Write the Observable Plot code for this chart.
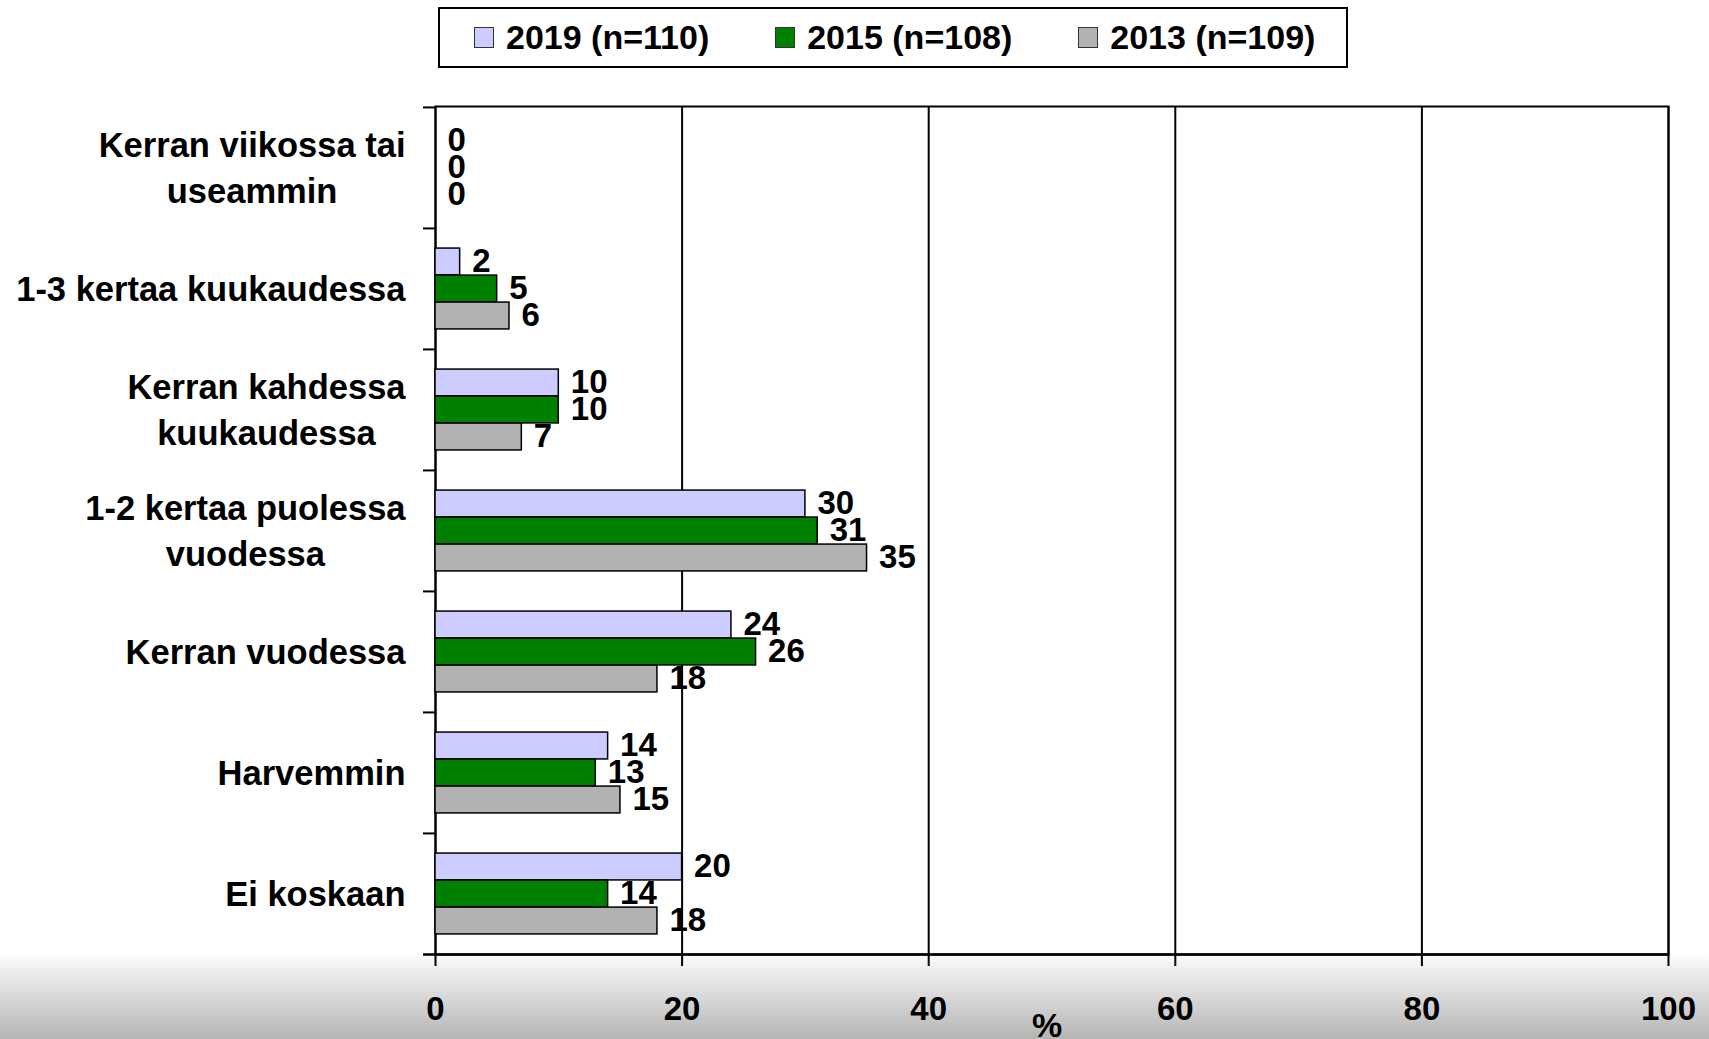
<!DOCTYPE html>
<html>
<head>
<meta charset="utf-8">
<script src="https://cdn.jsdelivr.net/npm/d3@7"></script>
<script src="https://cdn.jsdelivr.net/npm/@observablehq/plot@0.6"></script>
<style>
  html, body { margin: 0; padding: 0; width: 1709px; height: 1039px; overflow: hidden; }
  body {
    background: linear-gradient(to bottom, #ffffff 0px, #ffffff 952px, #f5f5f5 962px, #b5b5b5 1039px);
    font-family: "Liberation Sans", Arial, sans-serif;
  }
  #legend { position: relative; height: 80px; }
  #legendBox {
    position: absolute; left: 438px; top: 7px; width: 910px; height: 61px;
    box-sizing: border-box; border: 2px solid #000; background: #fff;
    display: flex; align-items: center; padding-left: 34px;
  }
  .item { display: flex; align-items: center; margin-right: 66px; }
  .sw { width: 20px; height: 21px; box-sizing: border-box; border: 1.5px solid #333; margin-right: 12px; }
  .lab { font-weight: bold; font-size: 34px; color: #000; white-space: nowrap; }
</style>
</head>
<body>
<div id="legend"><div id="legendBox"></div></div>
<div id="chart"></div>
<script>
// ---- data ----
const categories = [
  "Kerran viikossa tai\nuseammin",
  "1-3 kertaa kuukaudessa",
  "Kerran kahdessa\nkuukaudessa",
  "1-2 kertaa puolessa\nvuodessa",
  "Kerran vuodessa",
  "Harvemmin",
  "Ei koskaan"
];
const seriesNames = ["2019 (n=110)", "2015 (n=108)", "2013 (n=109)"];
const seriesColors = ["#ccccff", "#008000", "#b2b2b2"];
const values2019 = [0, 2, 10, 30, 24, 14, 20];
const values2015 = [0, 5, 10, 31, 26, 13, 14];
const values2013 = [0, 6, 7, 35, 18, 15, 18];
const xTicks = [0, 20, 40, 60, 80, 100];
const xLabel = "%";

const seriesValues = [values2019, values2015, values2013];
const rows = [];
seriesNames.forEach((s, si) => {
  categories.forEach((c, ci) => rows.push({series: s, si, category: c, value: seriesValues[si][ci]}));
});

// ---- legend (HTML, above the SVG) ----
const box = document.getElementById("legendBox");
seriesNames.forEach((s, i) => {
  const it = document.createElement("div"); it.className = "item";
  const sw = document.createElement("div"); sw.className = "sw"; sw.style.background = seriesColors[i];
  const lb = document.createElement("div"); lb.className = "lab"; lb.textContent = s;
  it.appendChild(sw); it.appendChild(lb); box.appendChild(it);
});

// ---- layout ----
const W = 1709, H = 959;
const mt = 26, mb = 85, ml = 435, mr = 41;
const bandH = (H - mt - mb) / categories.length;
const bh = 27;
const inset = (bandH - bh) / 2;

const ctx = document.createElement("canvas").getContext("2d");
ctx.font = "bold 34.5px 'Liberation Sans'";
const labW = c => d3.max(c.split("\n"), l => ctx.measureText(l).width);

const marks = [
  Plot.ruleX(xTicks, {stroke: "#000", strokeWidth: 2}),
  Plot.frame({stroke: "#000", strokeWidth: 2}),
  Plot.ruleY(categories, {y: d => d, x1: 0, x2: 0, insetLeft: -12, dy: -bandH / 2, stroke: "#000", strokeWidth: 2}),
  Plot.ruleY([categories[categories.length - 1]], {y: d => d, x1: 0, x2: 100, insetLeft: -12, dy: bandH / 2, stroke: "#000", strokeWidth: 2.5})
];

seriesNames.forEach((s, i) => {
  const data = rows.filter(r => r.si === i);
  marks.push(Plot.barX(data, {
    x: "value", y: "category", fill: "series",
    stroke: "#000", strokeWidth: 1.5,
    insetTop: inset, insetBottom: inset, dy: (i - 1) * bh
  }));
});
seriesNames.forEach((s, i) => {
  const data = rows.filter(r => r.si === i);
  marks.push(Plot.text(data, {
    x: "value", y: "category", text: d => String(d.value),
    dx: 12, dy: (i - 1) * bh - 1, textAnchor: "start", lineAnchor: "middle",
    fontSize: 33, fontWeight: "bold", fill: "#000"
  }));
});
categories.forEach(c => {
  marks.push(Plot.text([c], {
    y: d => d, text: d => d, frameAnchor: "left",
    textAnchor: "middle", lineAnchor: "middle", lineHeight: 1.35,
    dx: -(30 + labW(c) / 2), dy: -3, fontSize: 34.5, fontWeight: "bold", fill: "#000"
  }));
});
marks.push(Plot.axisX(xTicks, {
  tickSize: 12, tickPadding: 30, fontSize: 33, fontWeight: "bold",
  stroke: "#000", strokeWidth: 2, fill: "#000", label: null
}));
marks.push(Plot.text([xLabel], {
  frameAnchor: "bottom", text: d => d, dx: -5, dy: 58, lineAnchor: "top",
  fontSize: 34, fontWeight: "bold", fill: "#000"
}));

const chart = Plot.plot({
  width: W, height: H,
  marginTop: mt, marginBottom: mb, marginLeft: ml, marginRight: mr,
  style: {background: "transparent", fontFamily: "'Liberation Sans', Arial, sans-serif", overflow: "visible"},
  x: {domain: [0, 100]},
  y: {domain: categories, padding: 0, axis: null},
  color: {domain: seriesNames, range: seriesColors},
  marks
});
document.getElementById("chart").appendChild(chart);
</script>
</body>
</html>
